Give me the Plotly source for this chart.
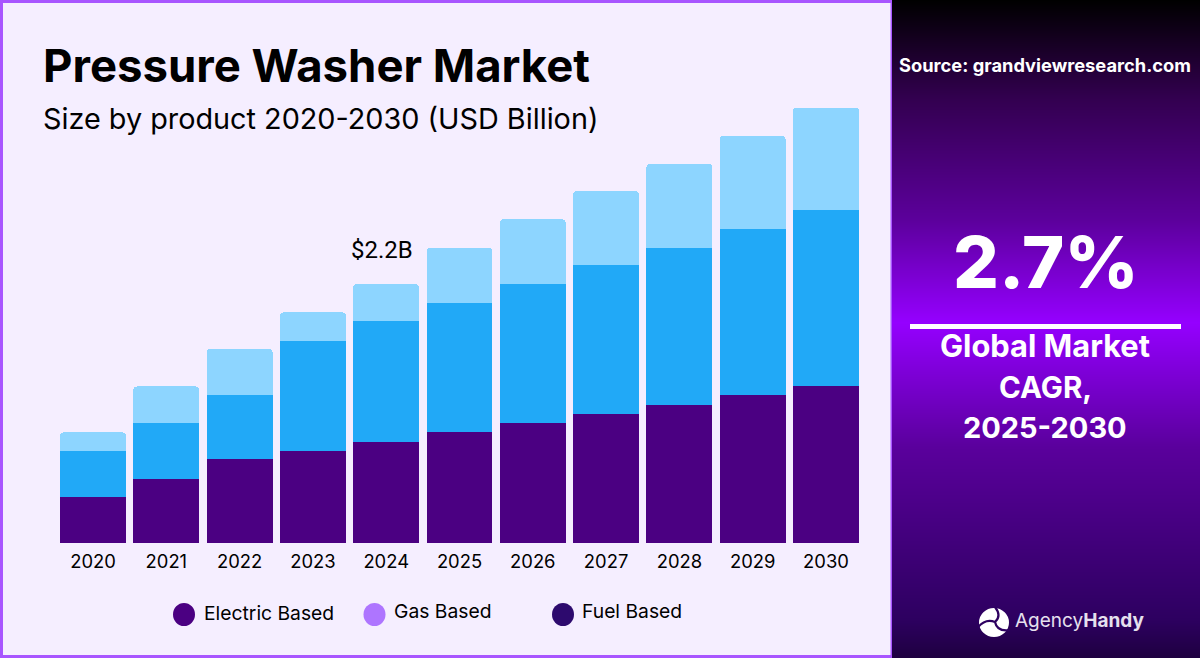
import plotly.graph_objects as go

years = ["2020","2021","2022","2023","2024","2025","2026","2027","2028","2029","2030"]
electric = [0.39,0.54,0.71,0.78,0.86,0.94,1.02,1.10,1.17,1.26,1.33]
gas = [0.39,0.48,0.55,0.94,1.03,1.10,1.18,1.26,1.34,1.41,1.50]
fuel = [0.16,0.31,0.39,0.24,0.31,0.47,0.55,0.63,0.71,0.79,0.87]
bar_names = ["Electric Based","Gas Based","Fuel Based"]
bar_colors = ["#4B0082","#21A9F7","#8DD5FF"]
legend_names = ["Electric Based","Gas Based","Fuel Based"]
legend_colors = ["#4B0082","#AE75FF","#2D0A6E"]
legend_circle_x = [184,374.5,563]
legend_text_x = [202,392,580]
legend_text_y = [613,611,611]
callout_text = "$2.2B"
grad_pos = [0,0.15,0.335,0.49,0.68,0.94,1]
grad_col = ["#000000","#330050","#5C009C","#9500FF","#5A009C","#2D0060","#1E0040"]
W,H = 1200,658
def px(x): return x/W
def py(y): return 1-y/H

fig = go.Figure()
for n,v,c in zip(bar_names,[electric,gas,fuel],bar_colors):
    fig.add_trace(go.Bar(x=years,y=v,name=n,marker=dict(color=c,line=dict(width=0)),showlegend=False))

grad_z = [[p] for p in grad_pos]
fig.add_trace(go.Heatmap(z=grad_z,x=[0],y=grad_pos,xaxis="x2",yaxis="y2",zmin=0,zmax=1,
    colorscale=[[p,c] for p,c in zip(grad_pos,grad_col)],showscale=False,zsmooth="best",hoverinfo="skip"))

shapes = [
    dict(type="rect",xref="paper",yref="paper",x0=px(1.5),x1=px(892),y0=py(656.5),y1=py(1.5),
         fillcolor="#F5EEFF",line=dict(color="#A855FF",width=3),layer="below"),
    dict(type="line",xref="paper",yref="paper",x0=px(910),x1=px(1181),y0=py(326.5),y1=py(326.5),
         line=dict(color="white",width=5)),
]
for x,c in zip(legend_circle_x,legend_colors):
    shapes.append(dict(type="circle",xref="paper",yref="paper",x0=px(x-11),x1=px(x+11),y0=py(626),y1=py(603),
                       fillcolor=c,line=dict(width=0)))

# logo: white blob with three dark swirl strokes
def path(points):
    out = []
    for i,(x,y) in enumerate(points):
        if i==0:
            out.append(f"M{px(x):.5f},{py(y):.5f}")
        elif i==1:
            out.append(f"Q{px(x):.5f},{py(y):.5f}")
        else:
            out.append(f"{px(x):.5f},{py(y):.5f}")
    return " ".join(out)
shapes.append(dict(type="circle",xref="paper",yref="paper",x0=px(979),x1=px(1009),y0=py(637),y1=py(608),
                   fillcolor="white",line=dict(width=0)))
for pts in [[(995,622),(1002,616),(995,607)],
            [(995,622),(986,618),(978,627)],
            [(995,622),(997,632),(1010,630)]]:
    shapes.append(dict(type="path",xref="paper",yref="paper",path=path(pts),
                       line=dict(color="#2D0060",width=2.2)))

def note(x,y,t,size,color="#000",family="Inter",anchor="left",weight=None):
    f = dict(size=size,color=color,family=family)
    if weight: f["weight"]=weight
    return dict(xref="paper",yref="paper",x=px(x),y=py(y),text=t,showarrow=False,xanchor=anchor,yanchor="middle",font=f)
ann = [
    note(41,65,"Pressure Washer Market",45.5,weight=700),
    note(41,119,"Size by product 2020-2030 (USD Billion)",28.8),
    note(1045,65,"Source: grandviewresearch.com",18.3,"white",anchor="center",weight=700),
    note(1046,261,"2.7%",72,"white",anchor="center",weight=800),
    note(1045,345,"Global Market",30.8,"white",anchor="center",weight=700),
    note(1045,387,"CAGR,",29.5,"white",anchor="center",weight=700),
    note(1045,427,"2025-2030",29,"white",anchor="center",weight=700),
    note(1013,620,"Agency<b>Handy</b>",19,"#E6E0EE"),
    note(382,250,callout_text,24,"#000","Roboto",anchor="center"),
]
for x,y,t in zip(legend_text_x,legend_text_y,legend_names):
    ann.append(note(x,y,t,19.3))

fig.update_layout(
    width=W,height=H,autosize=False,margin=dict(l=0,r=0,t=0,b=0),
    paper_bgcolor="#F5EEFF",plot_bgcolor="rgba(0,0,0,0)",
    barmode="stack",bargap=0.1,barcornerradius=4,
    xaxis=dict(domain=[px(56.4),px(862.6)],type="category",showgrid=False,zeroline=False,showline=False,
               ticks="outside",ticklen=2,tickcolor="rgba(0,0,0,0)",tickfont=dict(size=18.4,color="#000",family="Inter")),
    yaxis=dict(domain=[py(543),py(80)],range=[0,463/117.7],showgrid=False,zeroline=False,visible=False),
    xaxis2=dict(domain=[px(892),1],visible=False,anchor="y2"),
    yaxis2=dict(domain=[0,1],range=[1,0],visible=False,anchor="x2"),
    shapes=shapes,annotations=ann,
)
fig.write_html("out.html",config=dict(displayModeBar=False),
               post_script="document.body.style.margin='0';document.documentElement.style.overflow='hidden';")
